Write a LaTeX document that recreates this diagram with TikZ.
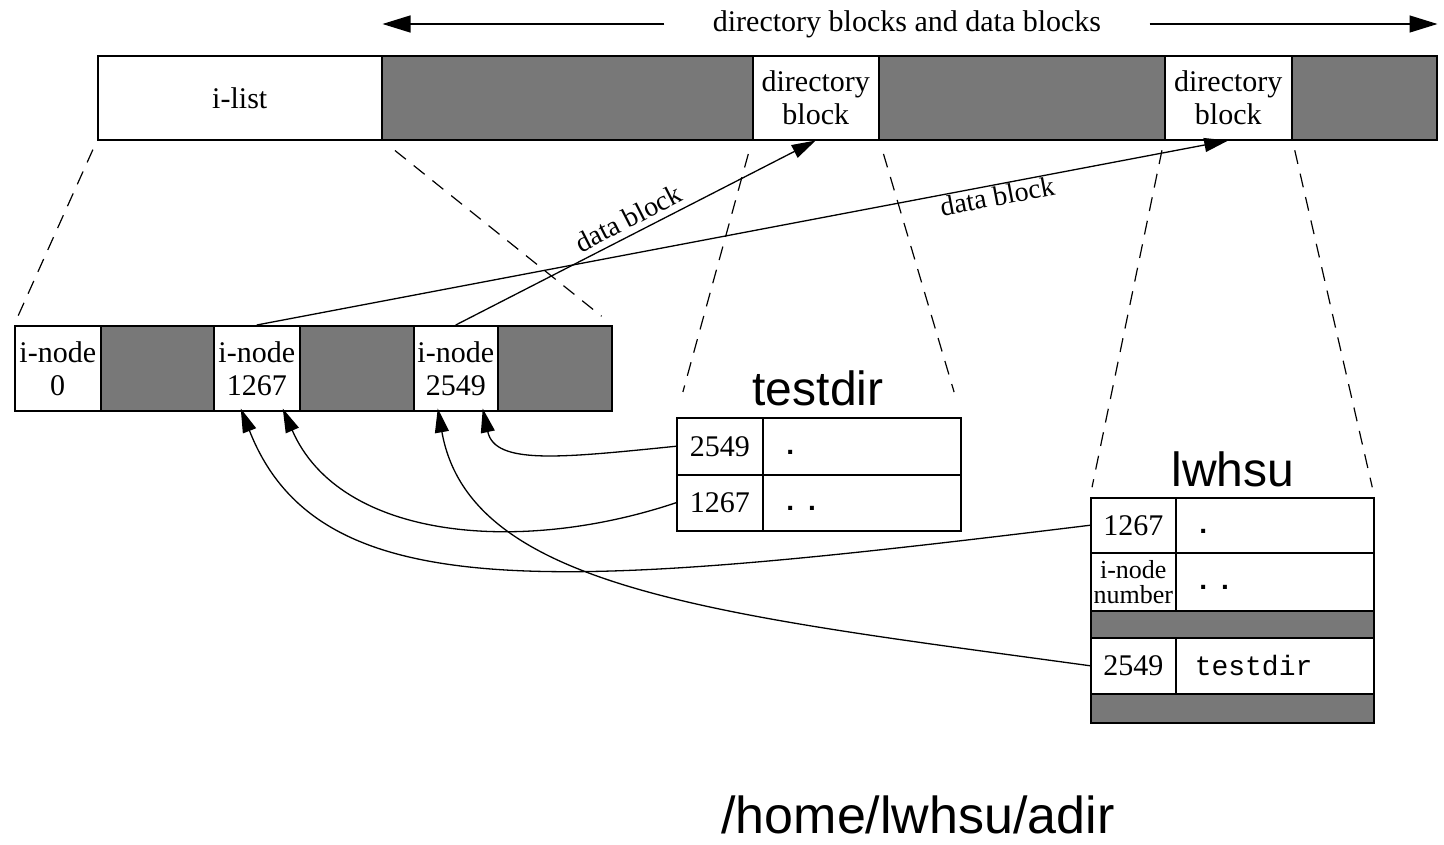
\documentclass[tikz,border=0pt]{standalone}
\usepackage{fontspec}
\setmainfont{Liberation Serif}
\newfontfamily\headsans{Liberation Sans}
\setmonofont{Liberation Mono}
\usetikzlibrary{arrows.meta}
\definecolor{blockgray}{RGB}{120,120,120}
\newcommand{\lowdots}[1]{\raisebox{-8pt}[0pt][0pt]{\bfseries #1}}

\begin{document}
\begin{tikzpicture}[x=1pt,y=-1pt,
  cell/.style={draw=black, line width=1.5pt, fill=white, anchor=north west,
    inner sep=0pt, align=center, font=\fontsize{30}{33}\selectfont},
  used/.style={cell, fill=blockgray},
  namecell/.style={cell, minimum width=198pt, text width=160pt, inner xsep=19pt,
    align=left, font=\ttfamily\fontsize{28}{33}\selectfont},
  guide/.style={draw=black, line width=1.2pt, dash pattern=on 14pt off 10pt},
  link/.style={draw=black, line width=1.3pt, -{Triangle[length=24pt,width=14pt]}},
  spanarrow/.style={draw=black, line width=1.3pt, -{Triangle[length=28pt,width=17pt]}},
  lbl/.style={font=\fontsize{28}{30}\selectfont},
  heading/.style={font=\headsans\fontsize{48}{48}\selectfont},
]
\useasboundingbox (0,0) rectangle (1444,844);

% ---- disk layout: i-list followed by directory and data blocks ----
\node[cell, minimum width=284pt, minimum height=84pt] (ilist) at (97,55) {i-list};
\node[used, minimum width=371pt, minimum height=84pt] (bar1) at (381,55) {};
\node[cell, minimum width=126pt, minimum height=84pt] (dirA) at (752,55) {directory\\block};
\node[used, minimum width=286pt, minimum height=84pt] (bar2) at (878,55) {};
\node[cell, minimum width=127pt, minimum height=84pt] (dirB) at (1164,55) {directory\\block};
\node[used, minimum width=145pt, minimum height=84pt] (bar3) at (1291,55) {};

\node[font=\fontsize{30}{32}\selectfont] (span) at (907,24) {directory blocks and data blocks};
\draw[spanarrow] ([xshift=-45pt]span.west) -- (span.west -| ilist.north east);
\draw[spanarrow] ([xshift=45pt]span.east) -- (span.east -| bar3.north east);

% ---- i-list, expanded ----
\node[cell, minimum width=86pt, minimum height=85pt] (ino0) at (14,325) {i-node\\0};
\node[used, minimum width=113pt, minimum height=85pt] (iu1) at (100,325) {};
\node[cell, minimum width=86pt, minimum height=85pt] (ino1267) at (213,325) {i-node\\1267};
\node[used, minimum width=114pt, minimum height=85pt] (iu2) at (299,325) {};
\node[cell, minimum width=84pt, minimum height=85pt] (ino2549) at (413,325) {i-node\\2549};
\node[used, minimum width=114pt, minimum height=85pt] (iu3) at (497,325) {};

% ---- directory block of testdir ----
\node[heading] (tdtitle) at (818,388) {testdir};
\node[cell, minimum width=86pt, minimum height=57pt] (tA) at (676,417) {2549};
\node[namecell, minimum height=57pt] (tAn) at (762,417) {\lowdots{.}};
\node[cell, minimum width=86pt, minimum height=56pt] (tB) at (676,474) {1267};
\node[namecell, minimum height=56pt] (tBn) at (762,474) {\lowdots{.\kern5pt.}};

% ---- directory block of lwhsu ----
\node[heading] (lwtitle) at (1233,469) {lwhsu};
\node[cell, minimum width=85pt, minimum height=55pt] (lA) at (1090,497) {1267};
\node[namecell, minimum height=55pt] (lAn) at (1175,497) {\lowdots{.}};
\node[cell, minimum width=85pt, minimum height=58pt, font=\fontsize{26}{25}\selectfont] (lB) at (1090,552) {i-node\\number};
\node[namecell, minimum height=58pt] (lBn) at (1175,552) {\lowdots{.\kern5pt.}};
\node[used, minimum width=283pt, minimum height=27pt] (lgap) at (1090,610) {};
\node[cell, minimum width=85pt, minimum height=56pt] (lC) at (1090,637) {2549};
\node[namecell, minimum height=56pt] (lCn) at (1175,637) {testdir};
\node[used, minimum width=283pt, minimum height=29pt] (lend) at (1090,693) {};

\node[font=\headsans\fontsize{52}{52}\selectfont] (path) at (918,815) {/home/lwhsu/adir};

% ---- zoom guides ----
\draw[guide, shorten <=10pt, shorten >=6pt] (ilist.south west) -- (ino0.north west);
\draw[guide, shorten <=16pt, shorten >=14pt] (ilist.south east) -- (iu3.north east);
\draw[guide, shorten <=14pt, shorten >=26pt] (dirA.south west) -- (tA.north west);
\draw[guide, shorten <=14pt, shorten >=26pt] (dirA.south east) -- (tAn.north east);
\draw[guide, shorten <=10pt, shorten >=10pt] (dirB.south west) -- (lA.north west);
\draw[guide, shorten <=10pt, shorten >=10pt] (dirB.south east) -- (lAn.north east);

% ---- i-nodes pointing at their data blocks ----
\draw[link] (ino2549.north) -- node[lbl, sloped, above, pos=0.5, inner sep=6pt] {data block} (dirA.south);
\draw[link] (ino1267.north) -- node[lbl, sloped, below, pos=0.76, inner sep=1pt] {data block} (dirB.south);

% ---- directory entries pointing at i-nodes ----
\draw[link] (tA.west) .. controls (560,458) and (495,465) .. ([xshift=27pt,yshift=3pt]ino2549.south);
\draw[link] (tB.west) .. controls (520,555) and (340,540) .. ([xshift=26pt,yshift=3pt]ino1267.south);
\draw[link] (lA.west) .. controls (560,590) and (320,610) .. ([xshift=-16pt,yshift=3pt]ino1267.south);
\draw[link] (lC.west) .. controls (720,615) and (470,590) .. ([xshift=-18pt,yshift=3pt]ino2549.south);
\end{tikzpicture}
\end{document}
